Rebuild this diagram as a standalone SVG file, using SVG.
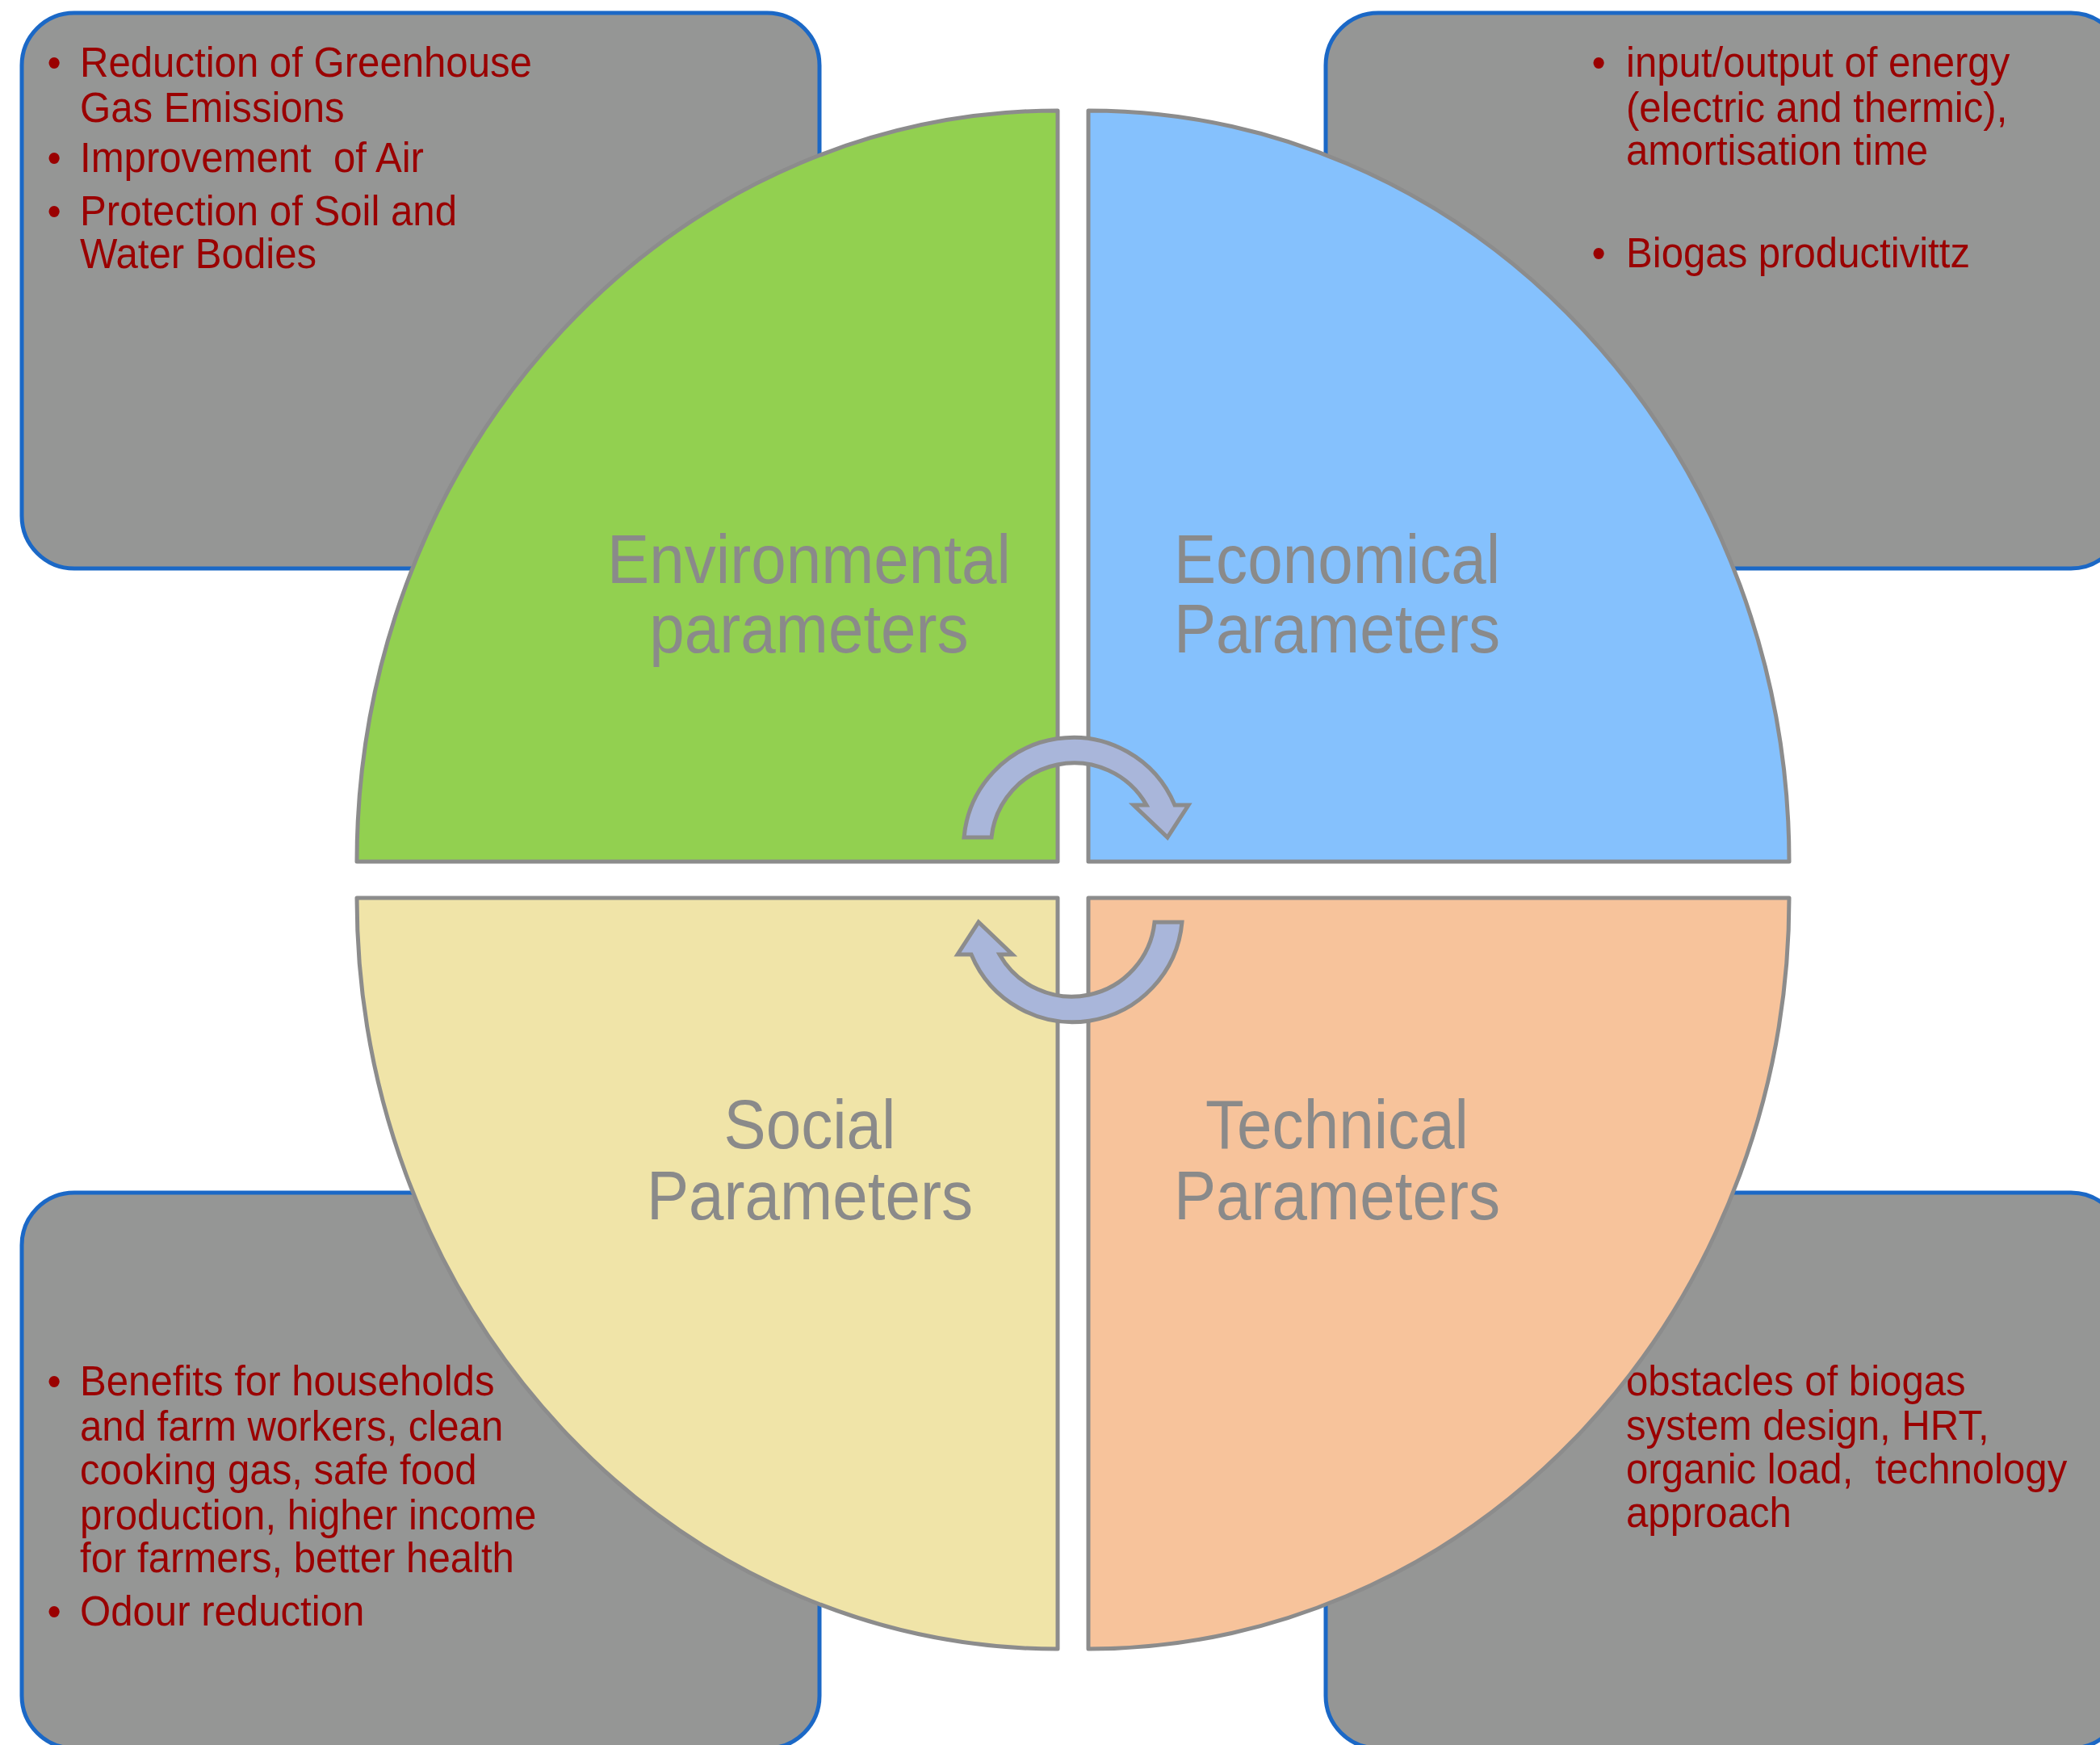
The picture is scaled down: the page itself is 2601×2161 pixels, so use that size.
<svg xmlns="http://www.w3.org/2000/svg" width="2601" height="2161" viewBox="0 0 2601 2161">
  <style>
    .box { fill: #959695; stroke: #1b68c6; stroke-width: 5; }
    .quad { stroke: #8c8c8c; stroke-width: 5; stroke-linejoin: round; }
    .arrow { fill: #a9b6da; stroke: #8c8c8c; stroke-width: 5; stroke-linejoin: miter; }
    .item { font-family: "Liberation Sans", Arial, sans-serif; font-size: 52px; fill: #9a0000; }
    .bul { text-anchor: middle; }
    .label { font-family: "Liberation Sans", Arial, sans-serif; font-size: 85px; fill: #8a8a8a; text-anchor: middle; }
  </style>
  <rect width="2601" height="2161" fill="#ffffff"/>

  <!-- detail boxes behind the circle -->
  <g id="box-environmental">
    <rect class="box" x="27" y="16" width="988" height="688" rx="65" ry="65"/>
    <text class="item bul" transform="translate(67 95) scale(0.945 1)">•</text>
    <text class="item" transform="translate(99 95) scale(0.945 1)">Reduction of Greenhouse</text>
    <text class="item" transform="translate(99 151) scale(0.945 1)">Gas Emissions</text>
    <text class="item bul" transform="translate(67 213) scale(0.945 1)">•</text>
    <text class="item" xml:space="preserve" transform="translate(99 213) scale(0.945 1)">Improvement  of Air</text>
    <text class="item bul" transform="translate(67 279) scale(0.945 1)">•</text>
    <text class="item" transform="translate(99 279) scale(0.945 1)">Protection of Soil and</text>
    <text class="item" transform="translate(99 332) scale(0.945 1)">Water Bodies</text>
  </g>

  <g id="box-economical">
    <rect class="box" x="1642" y="16" width="988" height="688" rx="65" ry="65"/>
    <text class="item bul" transform="translate(1980 95) scale(0.945 1)">•</text>
    <text class="item" transform="translate(2014 95) scale(0.945 1)">input/output of energy</text>
    <text class="item" transform="translate(2014 151) scale(0.945 1)">(electric and thermic),</text>
    <text class="item" transform="translate(2014 204) scale(0.945 1)">amortisation time</text>
    <text class="item bul" transform="translate(1980 331) scale(0.945 1)">•</text>
    <text class="item" transform="translate(2014 331) scale(0.945 1)">Biogas productivittz</text>
  </g>

  <g id="box-social">
    <rect class="box" x="27" y="1477" width="988" height="688" rx="65" ry="65"/>
    <text class="item bul" transform="translate(67 1728) scale(0.945 1)">•</text>
    <text class="item" transform="translate(99 1728) scale(0.945 1)">Benefits for households</text>
    <text class="item" transform="translate(99 1784) scale(0.945 1)">and farm workers, clean</text>
    <text class="item" transform="translate(99 1838) scale(0.945 1)">cooking gas, safe food</text>
    <text class="item" transform="translate(99 1894) scale(0.945 1)">production, higher income</text>
    <text class="item" transform="translate(99 1947) scale(0.945 1)">for farmers, better health</text>
    <text class="item bul" transform="translate(67 2013) scale(0.945 1)">•</text>
    <text class="item" transform="translate(99 2013) scale(0.945 1)">Odour reduction</text>
  </g>

  <g id="box-technical">
    <rect class="box" x="1642" y="1477" width="988" height="688" rx="65" ry="65"/>
    <text class="item" transform="translate(2014 1728) scale(0.945 1)">obstacles of biogas</text>
    <text class="item" transform="translate(2014 1783) scale(0.945 1)">system design, HRT,</text>
    <text class="item" xml:space="preserve" transform="translate(2014 1837) scale(0.945 1)">organic load,  technology</text>
    <text class="item" transform="translate(2014 1891) scale(0.945 1)">approach</text>
  </g>

  <!-- four quadrants of the circle -->
  <g id="quad-environmental">
    <path class="quad" fill="#92d050" d="M1310 1067 L442 1067 A868 930 0 0 1 1310 137 Z"/>
    <text class="label" transform="translate(1002 722) scale(0.92 1)">Environmental</text>
    <text class="label" transform="translate(1002 808) scale(0.92 1)">parameters</text>
  </g>
  <g id="quad-economical">
    <path class="quad" fill="#85c1fd" d="M1348 1067 L1348 137 A868 930 0 0 1 2216 1067 Z"/>
    <text class="label" transform="translate(1656 722) scale(0.92 1)">Economical</text>
    <text class="label" transform="translate(1656 808) scale(0.92 1)">Parameters</text>
  </g>
  <g id="quad-social">
    <path class="quad" fill="#f0e4a8" d="M1310 1112 L1310 2042 A868 930 0 0 1 442 1112 Z"/>
    <text class="label" transform="translate(1003 1422) scale(0.92 1)">Social</text>
    <text class="label" transform="translate(1003 1510) scale(0.92 1)">Parameters</text>
  </g>
  <g id="quad-technical">
    <path class="quad" fill="#f7c39b" d="M1348 1112 L2216 1112 A868 930 0 0 1 1348 2042 Z"/>
    <text class="label" transform="translate(1656 1422) scale(0.92 1)">Technical</text>
    <text class="label" transform="translate(1656 1510) scale(0.92 1)">Parameters</text>
  </g>

  <!-- cycle arrows -->
  <g id="connectors">
    <path id="cycle-top" class="arrow" d="M1194 1037 A136 136 0 0 1 1455 997 L1472 997 L1446 1037 L1404 997 L1420 997 A103 103 0 0 0 1228 1037 Z"/>
    <path id="cycle-bottom" class="arrow" transform="rotate(180 1329 1089.5)" d="M1194 1037 A136 136 0 0 1 1455 997 L1472 997 L1446 1037 L1404 997 L1420 997 A103 103 0 0 0 1228 1037 Z"/>
  </g>
</svg>
